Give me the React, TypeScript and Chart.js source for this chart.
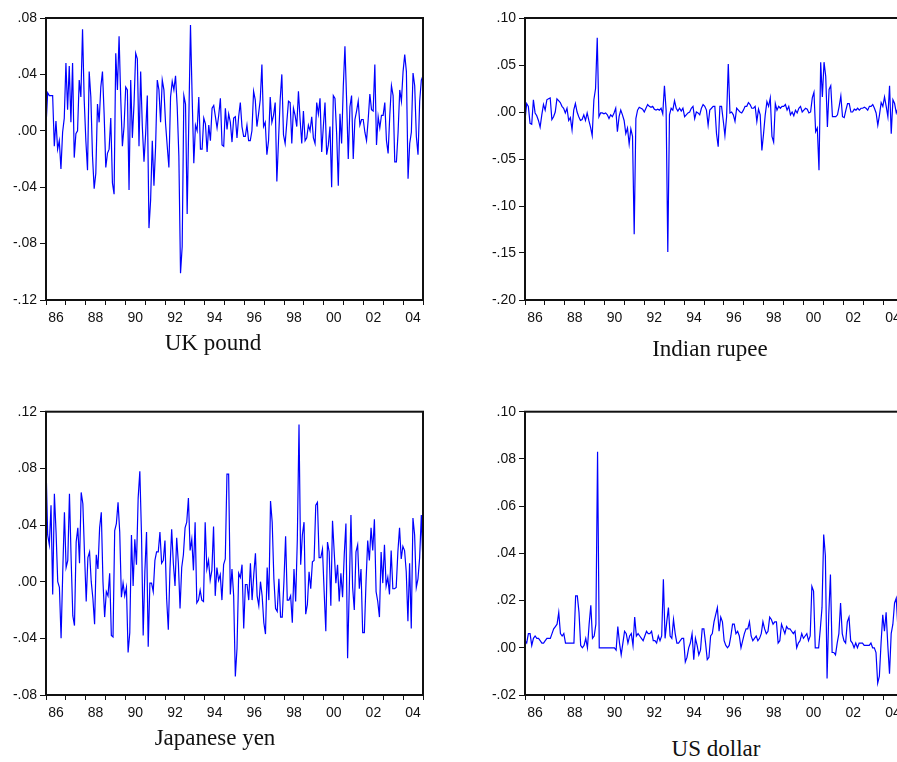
import React, { useEffect, useRef } from "react";
import { Chart, registerables } from "chart.js";

Chart.register(...registerables);

// ---------------- data ----------------
const START_YEAR = 1986;
const END_YEAR = 2005;
const xTickLabels = ["86", "88", "90", "92", "94", "96", "98", "00", "02", "04"];

const ukTicks = [-0.12, -0.08, -0.04, 0, 0.04, 0.08];
const inrTicks = [-0.2, -0.15, -0.1, -0.05, 0, 0.05, 0.1];
const jpyTicks = [-0.08, -0.04, 0, 0.04, 0.08, 0.12];
const usdTicks = [-0.02, 0, 0.02, 0.04, 0.06, 0.08, 0.1];

const ukPound = [
  0.003, 0.027, 0.025, 0.025, 0.025, -0.011, 0.007, -0.013, -0.007, -0.027,
  -0.001, 0.009, 0.048, 0.015, 0.046, 0.006, 0.048, -0.019, -0.002, 0.0,
  0.036, 0.024, 0.072, 0.022, -0.007, -0.028, 0.042, 0.024, -0.018, -0.041,
  -0.03, 0.019, 0.006, 0.031, 0.042, 0.012, -0.026, -0.016, -0.013, 0.009,
  -0.037, -0.045, 0.055, 0.029, 0.067, 0.023, -0.011, 0.003, 0.031, 0.029,
  -0.042, 0.036, -0.005, 0.019, 0.055, 0.051, -0.011, 0.042, 0.003, -0.022,
  -0.002, 0.025, -0.069, -0.049, -0.007, -0.039, -0.011, 0.036, 0.029, 0.006,
  0.036, 0.029, 0.005, -0.011, -0.026, 0.024, 0.035, 0.029, 0.039, 0.017,
  -0.018, -0.101, -0.082, 0.025, 0.019, -0.059, 0.008, 0.075, 0.024, -0.023,
  0.004, 0.0, 0.024, -0.013, -0.013, 0.009, 0.005, -0.015, 0.004, -0.007,
  0.016, 0.018, 0.01, 0.002, 0.011, 0.023,
  -0.01, -0.011, 0.016, 0.001, 0.012, 0.006, -0.008, 0.009, 0.01, -0.005,
  0.01, 0.02, 0.003, -0.004, -0.004, 0.004, -0.007, -0.007, 0.0, 0.028,
  0.022, 0.003, 0.012, 0.022, 0.047, 0.003, 0.006, -0.017, -0.007, 0.024,
  0.006, 0.011, 0.02, -0.036, -0.007, 0.022, 0.04, -0.003, -0.009, 0.006,
  0.021, 0.02, -0.009, 0.016, 0.011, 0.003, 0.028, 0.008, -0.009, 0.014,
  -0.007, -0.005, 0.004, 0.0, 0.01, -0.005, -0.009, 0.02, 0.012, 0.023,
  -0.015, 0.003, 0.02, -0.017, -0.01, 0.003, -0.04, 0.025, 0.023, -0.002,
  -0.039, 0.012, -0.009, 0.031, 0.06, 0.022, -0.02, 0.017, 0.025, -0.02,
  0.008, 0.014, 0.021, 0.004, 0.008, 0.008, -0.001, -0.007, 0.008, 0.026,
  0.015, 0.014, 0.047, -0.01, 0.01, 0.002, 0.011, 0.011, 0.02, -0.007,
  -0.016, 0.011, 0.032, 0.025, -0.022, -0.022, -0.001, 0.029, 0.021, 0.042,
  0.054, 0.042, -0.034, -0.009, -0.001, 0.041, 0.032, -0.004, -0.017, 0.021,
  0.036, 0.039,
];

const indianRupee = [
  -0.009, 0.009, 0.006, -0.012, -0.013, 0.013, -0.001, -0.004, -0.009, -0.016,
  -0.003, 0.008, 0.002, 0.013, 0.014, 0.015, -0.008, -0.005, 0.0, 0.014,
  0.012, 0.01, 0.006, 0.004, -0.001, 0.004, -0.009, -0.006, -0.019, 0.002,
  0.009, 0.0, -0.005, -0.009, -0.008, -0.003, -0.009, -0.001, -0.009, -0.016,
  -0.025, 0.013, 0.025, 0.079, -0.005, -0.001, -0.001, -0.002, -0.001, -0.003,
  -0.007, -0.003, -0.005, -0.001, 0.004, -0.021, -0.005, 0.002, -0.003, -0.009,
  -0.023, -0.017, -0.034, -0.018, -0.026, -0.13, -0.007, 0.002, 0.005, 0.004,
  0.003, 0.0, 0.004, 0.008, 0.006, 0.005, 0.006, 0.003, 0.002, 0.003,
  0.002, 0.004, -0.002, 0.028, 0.002, -0.149, -0.003, 0.004, 0.002, 0.012,
  0.004, 0.001,
  0.004, 0.001, 0.004, -0.005, -0.003, -0.001, 0.0, 0.004, 0.006, -0.007,
  0.0, -0.001, -0.003, 0.004, 0.008, 0.006, 0.002, -0.014, 0.002, 0.004,
  0.006, 0.006, -0.023, -0.037, 0.006, 0.006, -0.009, -0.025, -0.005, 0.051,
  -0.001, 0.0, -0.003, -0.01, 0.004, 0.002, 0.0, -0.001, 0.002, 0.006,
  0.006, 0.01, 0.008, 0.004, 0.004, 0.006, -0.01, 0.003, -0.003, -0.041,
  -0.023, -0.003, 0.011, 0.006, 0.015, -0.026, -0.032, 0.009, 0.002, 0.006,
  0.004, 0.006, 0.006, 0.008, 0.002, 0.006, -0.003, 0.0, -0.004, 0.002,
  -0.001, 0.004, 0.006, 0.0, 0.002, 0.004, 0.003, -0.001, 0.0, 0.015,
  0.021, -0.021, -0.017, -0.062, 0.053, 0.016, 0.053, 0.038, -0.016, 0.024,
  0.028, -0.005, -0.005, -0.005, -0.003, 0.006, 0.017, -0.005, -0.006, 0.002,
  0.009, 0.009, 0.0, 0.0, 0.003, 0.002, 0.004, 0.002, 0.004, 0.004,
  0.005, 0.004, 0.002, 0.006, 0.006, 0.008, 0.004, -0.001, -0.014, -0.003,
  0.01, 0.006, 0.016, 0.006, -0.005, 0.028, -0.023, 0.013, 0.009, -0.001,
  0.004, 0.002, 0.005, 0.001,
];

const japaneseYen = [
  0.083, 0.033, 0.026, 0.054, -0.009, 0.062, 0.035, 0.0, -0.004, -0.04,
  0.007, 0.049, 0.01, 0.015, 0.062, 0.016, -0.024, -0.031, 0.028, 0.038,
  0.013, 0.063, 0.055, 0.019, -0.014, 0.017, 0.021, 0.0, -0.012, -0.03,
  0.019, 0.009, 0.038, 0.049, 0.0, -0.025, -0.007, -0.01, 0.006, -0.038,
  -0.039, 0.036, 0.041, 0.056, 0.035, -0.011, -0.001, -0.01, -0.004, -0.05,
  -0.036, 0.033, -0.003, 0.03, 0.012, 0.059, 0.078, 0.033, -0.038, 0.007,
  0.035, -0.046, -0.001, -0.001, -0.007, 0.015, 0.021, 0.021, 0.035, 0.013,
  0.015, 0.029, -0.012, -0.034, 0.009, 0.037, 0.013, -0.003, 0.031, 0.013,
  -0.019, 0.01, 0.019, 0.038, 0.042, 0.059, 0.022, 0.03, 0.008, 0.042,
  -0.015, -0.013, -0.006, -0.013, -0.014, 0.042, 0.009, 0.015, 0.001, 0.008,
  0.039, -0.01, 0.01, 0.001,
  0.005, -0.013, 0.012, 0.016, 0.076, 0.076, -0.009, 0.009, -0.01, -0.067,
  -0.047, 0.006, 0.003, 0.012, -0.033, -0.002, -0.002, -0.013, 0.013, -0.013,
  0.005, 0.02, -0.01, -0.017, 0.0, -0.01, -0.029, -0.037, 0.01, -0.013,
  0.057, 0.042, 0.002, -0.019, -0.021, 0.002, -0.025, -0.025, 0.0, 0.032,
  -0.013, -0.013, -0.01, -0.029, 0.009, -0.014, 0.03, 0.111, 0.012, 0.033,
  0.042, -0.023, -0.016, 0.007, -0.005, 0.014, 0.015, 0.054, 0.056, 0.017,
  0.017, 0.023, -0.007, -0.035, 0.028, 0.021, -0.017, 0.043, 0.021, -0.001,
  0.012, -0.014, 0.006, -0.011, 0.019, 0.041, -0.054, -0.005, 0.047, -0.004,
  -0.02, 0.021, 0.026, -0.005, 0.009, -0.036, -0.036, 0.0, 0.029, 0.015,
  0.038, 0.022, 0.044, -0.007, -0.014, -0.025, 0.021, -0.001, 0.026, -0.003,
  0.003, -0.009, 0.022, -0.005, -0.005, -0.004, 0.021, 0.038, 0.016, 0.025,
  0.022, 0.007, -0.028, 0.013, -0.033, 0.045, 0.033, -0.004, 0.002, 0.017,
  0.047, 0.012,
];

const usDollar = [
  0.003, 0.002, 0.006, 0.006, 0.001, 0.004, 0.005, 0.004, 0.004, 0.003,
  0.002, 0.002, 0.003, 0.004, 0.004, 0.004, 0.006, 0.008, 0.009, 0.01,
  0.015, 0.006, 0.005, 0.006, 0.002, 0.002, 0.002, 0.002, 0.002, 0.002,
  0.022, 0.022, 0.015, 0.001, 0.0, 0.001, 0.004, 0.0, 0.01, 0.018,
  0.004, 0.005, 0.01, 0.083, 0.0, 0.0, 0.0, 0.0, 0.0, 0.0,
  0.0, 0.0, 0.0, 0.0, -0.001, 0.009, 0.002, -0.003, 0.002, 0.007,
  0.006, 0.002, 0.005, 0.006, 0.001, 0.013, 0.005, 0.006, 0.005, 0.004,
  0.003, 0.005, 0.007, 0.006, 0.006, 0.007, 0.003, 0.003, 0.002, 0.005,
  0.003, 0.005, 0.029, 0.004, 0.011, 0.017,
  0.005, 0.004, 0.012, 0.006, 0.002, 0.002, 0.003, 0.004, 0.004, -0.006,
  -0.004, 0.0, 0.002, 0.006, -0.005, 0.004, 0.001, -0.003, -0.001, 0.008,
  0.008, 0.002, -0.005, -0.004, 0.005, 0.006, 0.011, 0.014, 0.017, 0.007,
  0.013, 0.011, 0.003, 0.001, 0.0, 0.001, 0.005, 0.01, 0.01, 0.006,
  0.007, 0.005, 0.0, 0.003, 0.006, 0.008, 0.008, 0.011, 0.005, 0.003,
  0.004, 0.005, 0.003, 0.004, 0.006, 0.011, 0.008, 0.006, 0.007, 0.013,
  0.012, 0.01, 0.011, 0.011, 0.002, 0.003, 0.01, 0.008, 0.006, 0.009,
  0.008, 0.008, 0.007, 0.006, 0.007, 0.0, 0.002, 0.003, 0.006, 0.004,
  0.005, 0.006, 0.003, 0.005, 0.026, 0.024, 0.0, 0.0, 0.0, 0.008,
  0.017, 0.048, 0.039, -0.013, 0.014, 0.031, -0.002, -0.002, -0.003, 0.002,
  0.006, 0.019, 0.006, 0.003, 0.002, 0.011, 0.013, 0.003, 0.002, 0.0,
  0.002, 0.0, 0.002, 0.002, 0.002, 0.001, 0.001, 0.001, 0.001, 0.002,
  0.0, 0.0, -0.002, -0.015, -0.012, 0.002, 0.014, 0.007, 0.015, 0.001,
  -0.011, 0.006, 0.01, 0.019, 0.021, 0.008, -0.001, 0.004, -0.002,
];

// ---------------- helpers ----------------
const fmt = (v: number) => {
  const s = Math.abs(v).toFixed(2).replace(/^0/, "");
  return (v < -1e-9 ? "-" : "") + s;
};

const toPoints = (vals: number[]) => {
  const span = END_YEAR - START_YEAR;
  return vals.map((v, i) => ({ x: START_YEAR + (i * span) / (vals.length - 1), y: v }));
};

const framePlugin = {
  id: "frame",
  afterDatasetsDraw(chart: any) {
    const { ctx, chartArea: a } = chart;
    ctx.save();
    ctx.strokeStyle = "#111";
    ctx.lineWidth = 2;
    ctx.strokeRect(a.left, a.top, a.right - a.left, a.bottom - a.top);
    ctx.restore();
  },
};

type Geom = {
  left: number;
  top: number;
  w: number;
  h: number;
  yW: number;
  padTop: number;
  padRight: number;
  xH: number;
};

const TICK_FONT = { family: "'Liberation Sans', Arial, sans-serif", size: 14 };

function Panel({ values, yTicks, geom }: { values: number[]; yTicks: number[]; geom: Geom }) {
  const ref = useRef<HTMLCanvasElement>(null);
  useEffect(() => {
    const canvas = ref.current!;
    const years: number[] = [];
    for (let y = START_YEAR; y <= END_YEAR; y++) years.push(y);
    const plotW = geom.w - geom.yW - geom.padRight;
    const half = plotW / (END_YEAR - START_YEAR) / 2;
    const chart = new Chart(canvas, {
      type: "line",
      data: {
        datasets: [
          {
            data: toPoints(values),
            borderColor: "#0000ff",
            borderWidth: 1.2,
            pointRadius: 0,
            tension: 0,
            fill: false,
          },
        ],
      },
      options: {
        animation: false,
        responsive: false,
        devicePixelRatio: 1,
        layout: { padding: { left: 0, top: geom.padTop, right: geom.padRight, bottom: 0 } },
        plugins: { legend: { display: false }, tooltip: { enabled: false }, title: { display: false } },
        scales: {
          x: {
            type: "linear",
            min: START_YEAR,
            max: END_YEAR,
            afterBuildTicks: (s: any) => {
              s.ticks = years.map((v) => ({ value: v }));
            },
            afterFit: (s: any) => {
              s.height = geom.xH;
            },
            grid: { drawOnChartArea: false, drawTicks: true, tickLength: 5, tickColor: "#111", tickWidth: 1 },
            border: { display: false },
            ticks: {
              autoSkip: false,
              maxRotation: 0,
              minRotation: 0,
              padding: 5,
              labelOffset: half,
              color: "#111",
              font: TICK_FONT,
              callback: (v: any) => {
                const yr = Math.round(Number(v));
                const k = yr - START_YEAR;
                if (yr < END_YEAR && k % 2 === 0) return xTickLabels[k / 2];
                return "";
              },
            },
          },
          y: {
            type: "linear",
            min: yTicks[0],
            max: yTicks[yTicks.length - 1],
            afterBuildTicks: (s: any) => {
              s.ticks = yTicks.map((v) => ({ value: v }));
            },
            afterFit: (s: any) => {
              s.width = geom.yW;
            },
            grid: { drawOnChartArea: false, drawTicks: true, tickLength: 6, tickColor: "#111", tickWidth: 1 },
            border: { display: false },
            ticks: {
              padding: 3,
              color: "#111",
              font: TICK_FONT,
              callback: (v: any) => fmt(Number(v)),
            },
          },
        },
      },
      plugins: [framePlugin],
    } as any);
    return () => chart.destroy();
  }, []);
  return (
    <canvas
      ref={ref}
      width={geom.w}
      height={geom.h}
      style={{ position: "absolute", left: geom.left, top: geom.top, width: geom.w, height: geom.h }}
    />
  );
}

const titleStyle = (cx: number, top: number): React.CSSProperties => ({
  position: "absolute",
  left: cx - 150,
  width: 300,
  top,
  textAlign: "center",
  fontFamily: "'Liberation Serif', 'Times New Roman', serif",
  fontSize: 23,
  lineHeight: "23px",
  color: "#111",
  whiteSpace: "nowrap",
});

export default function App() {
  return (
    <div
      style={{
        position: "fixed",
        left: 0,
        top: 0,
        width: 897,
        height: 762,
        overflow: "hidden",
        background: "#fff",
      }}
    >
      <Panel
        values={ukPound}
        yTicks={ukTicks}
        geom={{ left: 0, top: 0, w: 430, h: 340, yW: 46, padTop: 18, padRight: 7, xH: 40 }}
      />
      <Panel
        values={indianRupee}
        yTicks={inrTicks}
        geom={{ left: 450, top: 0, w: 460, h: 340, yW: 75, padTop: 18, padRight: 7, xH: 40 }}
      />
      <Panel
        values={japaneseYen}
        yTicks={jpyTicks}
        geom={{ left: 0, top: 395, w: 430, h: 340, yW: 46, padTop: 16.7, padRight: 7, xH: 40 }}
      />
      <Panel
        values={usDollar}
        yTicks={usdTicks}
        geom={{ left: 450, top: 395, w: 460, h: 340, yW: 75, padTop: 16.7, padRight: 7, xH: 40 }}
      />
      <div style={titleStyle(213, 331)}>UK pound</div>
      <div style={titleStyle(710, 337)}>Indian rupee</div>
      <div style={titleStyle(215, 726)}>Japanese yen</div>
      <div style={titleStyle(716, 737)}>US dollar</div>
    </div>
  );
}
